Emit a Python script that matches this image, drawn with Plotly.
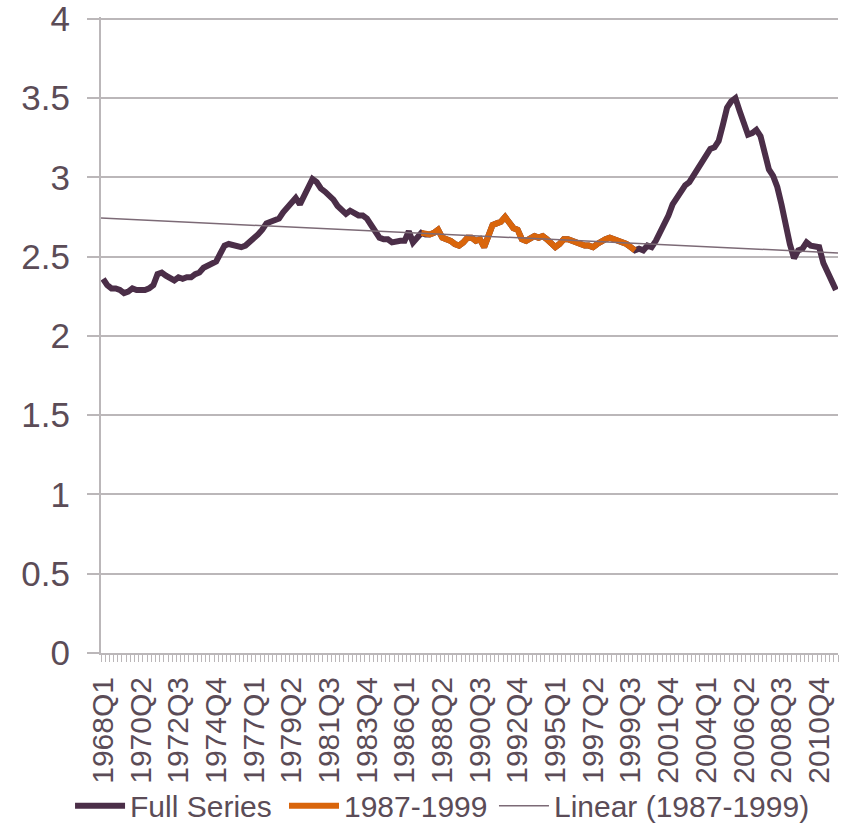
import numpy as np
import plotly.graph_objects as go

# ---- data ----
start_year = 1968
n_quarters = 176  # 1968Q1 .. 2011Q4

full_series = [
    2.36, 2.32, 2.30, 2.30, 2.29, 2.27, 2.28, 2.30, 2.29, 2.29,   # 1968Q1-1970Q2
    2.29, 2.30, 2.32, 2.39, 2.40, 2.38, 2.37, 2.35, 2.37, 2.36,   # 1970Q3-1972Q4
    2.37, 2.37, 2.39, 2.40, 2.43, 2.44, 2.45, 2.47, 2.52, 2.57,   # 1973Q1-1975Q2
    2.58, 2.57, 2.56, 2.56, 2.57, 2.59, 2.61, 2.64, 2.67, 2.71,   # 1975Q3-1977Q4
    2.72, 2.73, 2.74, 2.78, 2.81, 2.85, 2.87, 2.83, 2.89, 2.94,   # 1978Q1-1980Q2
    2.99, 2.97, 2.93, 2.91, 2.89, 2.86, 2.82, 2.79, 2.77, 2.79,   # 1980Q3-1982Q4
    2.77, 2.76, 2.76, 2.74, 2.70, 2.65, 2.62, 2.61, 2.61, 2.59,   # 1983Q1-1985Q2
    2.60, 2.60, 2.60, 2.66, 2.59, 2.62, 2.65, 2.64, 2.64, 2.65,   # 1985Q3-1987Q4
    2.67, 2.62, 2.61, 2.60, 2.58, 2.57, 2.59, 2.62, 2.62, 2.60,   # 1988Q1-1990Q2
    2.61, 2.56, 2.63, 2.70, 2.71, 2.72, 2.75, 2.71, 2.68, 2.67,   # 1990Q3-1992Q4
    2.61, 2.60, 2.62, 2.63, 2.62, 2.63, 2.61, 2.59, 2.56, 2.58,   # 1993Q1-1995Q2
    2.61, 2.61, 2.60, 2.59, 2.58, 2.57, 2.57, 2.56, 2.58, 2.60,   # 1995Q3-1997Q4
    2.61, 2.62, 2.61, 2.60, 2.60, 2.58, 2.56, 2.54, 2.55, 2.54,   # 1998Q1-2000Q2
    2.57, 2.56, 2.60, 2.65, 2.69, 2.76, 2.83, 2.87, 2.90, 2.95,   # 2000Q3-2002Q4
    2.97, 3.01, 3.05, 3.09, 3.13, 3.18, 3.19, 3.23, 3.33, 3.44,   # 2003Q1-2005Q2
    3.48, 3.50, 3.42, 3.33, 3.27, 3.28, 3.30, 3.26, 3.16, 3.05,   # 2005Q3-2007Q4
    3.01, 2.94, 2.83, 2.70, 2.58, 2.49, 2.54, 2.55, 2.59, 2.57,   # 2008Q1-2010Q2
    2.56, 2.56, 2.46, 2.40, 2.34, 2.29,                           # 2010Q3-2011Q4
]

sub_start = "1987Q1"
sub_end = "1999Q4"
label_every = 9
y_ticks = [0, 0.5, 1, 1.5, 2, 2.5, 3, 3.5, 4]

# ---- derived ----
quarters = [f"{start_year + i // 4}Q{i % 4 + 1}" for i in range(n_quarters)]
idx = np.arange(n_quarters)
i0 = quarters.index(sub_start)
i1 = quarters.index(sub_end)
sub_x = idx[i0:i1 + 1]
sub_y = np.array(full_series[i0:i1 + 1])
slope, intercept = np.polyfit(sub_x, sub_y, 1)
trend_x = np.array([-0.5, n_quarters - 0.5])
trend_y = intercept + slope * trend_x

tick_vals = list(range(0, n_quarters, label_every))
tick_text = [quarters[i] for i in tick_vals]

TXT = "#5B4C57"
GRID = "#BBB7B9"
FONT = "Liberation Sans, Arial, sans-serif"

fig = go.Figure()
fig.add_trace(go.Scatter(x=idx, y=full_series, mode="lines", name="Full Series",
                         legend="legend",
                         line=dict(color="#4B2E48", width=6)))
fig.add_trace(go.Scatter(x=sub_x, y=sub_y, mode="lines", name="1987-1999",
                         legend="legend2",
                         line=dict(color="#D9650B", width=6)))
fig.add_trace(go.Scatter(x=trend_x, y=trend_y, mode="lines", name="Linear (1987-1999)",
                         legend="legend3",
                         line=dict(color="#7C6A76", width=1.5)))

leg_common = dict(orientation="h", xanchor="left", y=-0.24, yanchor="middle",
                  font=dict(size=30, color=TXT), itemwidth=50,
                  bgcolor="rgba(0,0,0,0)")

fig.update_layout(
    width=846, height=825,
    margin=dict(l=101, r=8, t=17, b=172, autoexpand=False),
    paper_bgcolor="white", plot_bgcolor="white",
    font=dict(family=FONT, color=TXT),
    showlegend=True,
    legend=dict(x=-0.042, **leg_common),
    legend2=dict(x=0.2483, **leg_common),
    legend3=dict(x=0.5332, **leg_common),
)
fig.update_xaxes(
    range=[-0.5, n_quarters - 0.5], tickmode="array", tickvals=tick_vals, ticktext=tick_text,
    tickangle=-90, tickfont=dict(size=30, color=TXT), ticks="", ticklabelstandoff=10,
    showgrid=False, zeroline=False, showline=True, linecolor=GRID, linewidth=2,
    automargin=False,
    minor=dict(tick0=-0.5, dtick=1, ticks="outside", ticklen=7, tickcolor=GRID,
               tickwidth=1, showgrid=False),
)
fig.update_yaxes(
    range=[0, 4.012], tickmode="array", tickvals=y_ticks,
    ticktext=[f"{v:g}" for v in y_ticks], tickfont=dict(size=35, color=TXT),
    ticks="outside", ticklen=12, tickcolor=GRID, tickwidth=2, ticklabelstandoff=10,
    ticklabeloverflow="allow",
    showgrid=True, gridcolor=GRID, gridwidth=2, zeroline=False,
    showline=True, linecolor=GRID, linewidth=2, automargin=False,
)

fig.write_html("out.html", config={"displayModeBar": False},
               post_script="document.body.style.margin='0';document.body.style.overflow='hidden';")
